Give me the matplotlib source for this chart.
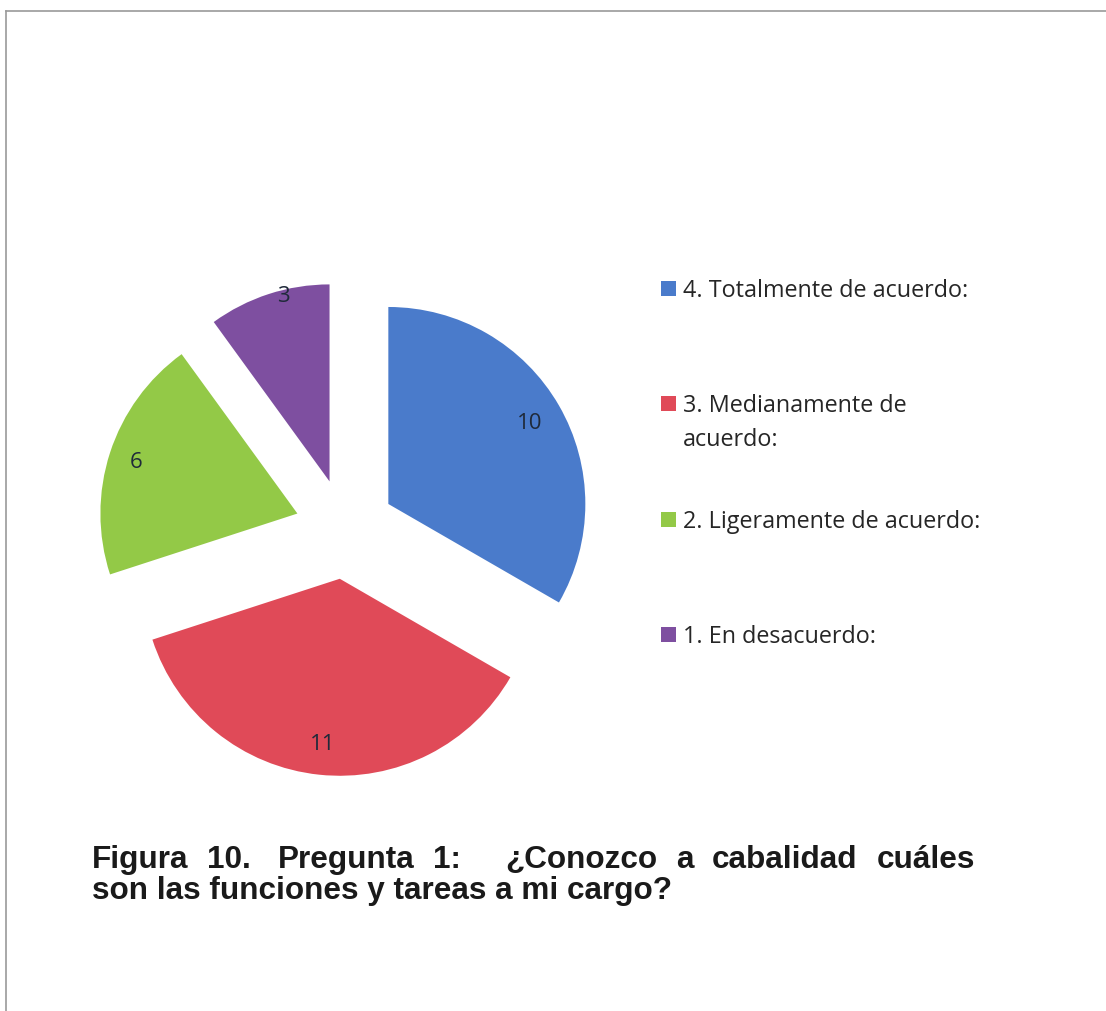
import matplotlib
matplotlib.use("Agg")
import matplotlib.pyplot as plt
from matplotlib.patches import Rectangle
from matplotlib.lines import Line2D
import numpy as np

categories = ["4. Totalmente de acuerdo:", "3. Medianamente de\nacuerdo:",
              "2. Ligeramente de acuerdo:", "1. En desacuerdo:"]
values = [10, 11, 6, 3]
colors = ["#4A7BCB", "#E04A58", "#93C947", "#7E4FA0"]
label_dist = [0.83, 0.84, 0.86, 0.97]
label_angle_shift = [0, 0, 0, -4]
caption_line1 = ["Figura", "10.", "Pregunta", "1:", "\u00bfConozco", "a", "cabalidad", "cu\u00e1les"]
caption_line2 = "son las funciones y tareas a mi cargo?"

W, H = 1106, 1012
fig = plt.figure(figsize=(W / 100, H / 100), dpi=100)
fig.patch.set_facecolor("white")

# pie axes: centre at (345, 530) px from top, radius 197 px
cx, cy, R = 345, 530, 197
half = 320
ax = fig.add_axes([(cx - half) / W, (H - cy - half) / H, 2 * half / W, 2 * half / H])
wedges, _ = ax.pie(values, colors=colors, startangle=90, counterclock=False,
                   explode=[0.254] * len(values), radius=1.0)
lim = half / R
ax.set_xlim(-lim, lim)
ax.set_ylim(-lim, lim)
ax.set_aspect("equal")
ax.axis("off")

for w, v, d, s in zip(wedges, values, label_dist, label_angle_shift):
    mid = np.deg2rad((w.theta1 + w.theta2) / 2 + s)
    x0, y0 = w.center
    ax.text(x0 + d * np.cos(mid), y0 + d * np.sin(mid), str(v),
            ha="center", va="center", fontsize=16, color="#1F2A3A",
            family="Open Sans")

# legend (manual, evenly spaced, top-aligned)
leg_base = [297, 412, 528, 643]
sq = 15
for cat, col, yb in zip(categories, colors, leg_base):
    fig.patches.append(Rectangle((661 / W, (H - yb) / H), sq / W, sq / H,
                                 transform=fig.transFigure, facecolor=col, edgecolor="none"))
    lines = cat.split("\n")
    for i, ln in enumerate(lines):
        fig.text(683 / W, (H - yb - 34 * i) / H, ln, ha="left", va="baseline", fontsize=16.8,
                 color="#262626", family="Open Sans")

# caption (first line justified between x=92 and x=975)
cap_kw = dict(fontsize=22.7, fontweight="bold", family="Liberation Sans", color="#1a1a1a",
              va="baseline", ha="left")
x_left, x_right = 92, 975
base1, base2 = 868, 899
fig.canvas.draw()
r = fig.canvas.get_renderer()
words = []
for wd in caption_line1:
    t = fig.text(0, (H - base1) / H, wd, **cap_kw)
    words.append(t)
widths = [t.get_window_extent(renderer=r).width for t in words]
weights = [1, 1.4, 1, 2.3, 1, 1, 1]
extra = (x_right - x_left) - sum(widths)
unit = extra / sum(weights)
x = x_left
for i, t in enumerate(words):
    t.set_x(x / W)
    x += widths[i]
    if i < len(weights):
        x += unit * weights[i]
fig.text(x_left / W, (H - base2) / H, caption_line2, **cap_kw)

# frame lines
fig.add_artist(Line2D([6 / W, 6 / W], [0, (H - 12) / H], transform=fig.transFigure,
                      color="#9a9a9a", lw=1.2))
fig.add_artist(Line2D([6 / W, 1], [(H - 12) / H, (H - 12) / H], transform=fig.transFigure,
                      color="#9a9a9a", lw=1.2))

fig.savefig("out.png", dpi=100, facecolor="white")
